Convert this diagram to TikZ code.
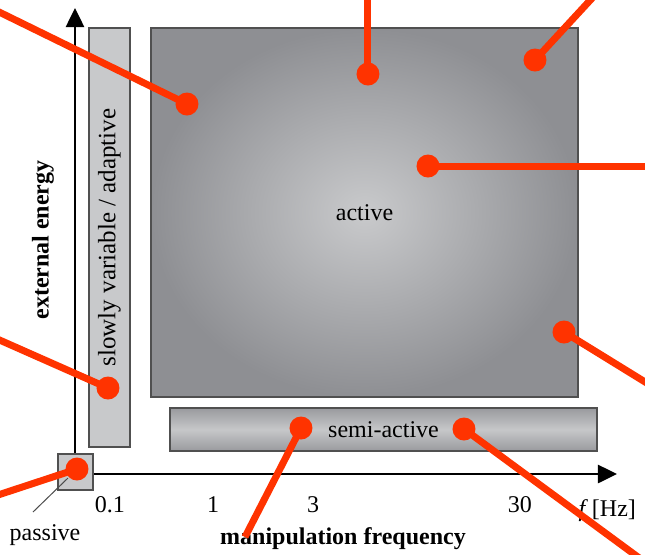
\documentclass[tikz,border=0pt]{standalone}
\usepackage{fontspec}
\setmainfont{Liberation Serif}
\usetikzlibrary{positioning, arrows.meta}

\definecolor{leadred}{HTML}{FF3300}
\definecolor{boxdark}{HTML}{8E8F93}
\definecolor{boxlight}{HTML}{C6C7C9}
\definecolor{boxedge}{HTML}{505050}
\definecolor{barfill}{HTML}{C8C9CB}

\begin{document}
\begin{tikzpicture}[
    x=0.5pt, y=-0.5pt,
    % Region box style
    region/.style={
        rectangle,
        draw=boxedge,
        line width=0.8pt,
        inner sep=0pt,
        font=\fontsize{12}{14}\selectfont
    },
    % Axis style
    axis/.style={
        -{Triangle[length=9.5pt, width=9pt]},
        line width=1.3pt
    },
    % Leader line style
    lead/.style={
        leadred,
        line width=3.5pt
    },
    % Dot style
    dot/.style={
        circle,
        fill=leadred,
        inner sep=0pt,
        minimum size=11.5pt
    },
    % Label style
    lbl/.style={
        font=\fontsize{12}{14}\selectfont
    },
    % Axis title style
    ttl/.style={
        font=\fontsize{12}{14}\selectfont\bfseries
    }
]

\useasboundingbox (0, 0) rectangle (645, 554);
\clip (0, 0) rectangle (645, 554);

% === Axes ===
\coordinate (O) at (75, 474);
\coordinate (ytip) at (75, 8);
\coordinate (xtip) at (617, 474);
\draw[axis] (O) -- (ytip);
\draw[axis] (O) -- (xtip);

% === Regions ===
\node[region, fill=barfill, rotate=90, minimum width=209.5pt, minimum height=20.5pt,
      font=\fontsize{12.5}{14}\selectfont]
    (slow) at (109.5, 237.5) {slowly variable / adaptive};
\node[region, inner color=boxlight!95!white, outer color=boxdark,
      minimum width=213.5pt, minimum height=184.5pt]
    (active) at (364.5, 212.5) {active};
\node[region, top color=boxdark!90, bottom color=boxdark!90, middle color=boxlight,
      minimum width=213.5pt, minimum height=21.5pt]
    (semi) at (383.5, 429.5) {semi-active};
\node[region, fill=barfill, minimum width=17.5pt, minimum height=18pt]
    (pasbox) at (75.5, 472) {};

% === Tick labels ===
\node[lbl] (t01) at (110, 505) {0.1};
\node[lbl] (t1) at (213, 505) {1};
\node[lbl] (t3) at (313, 505) {3};
\node[lbl] (t30) at (520, 505) {30};
\node[lbl, anchor=east] (funit) at (643, 511) {\textit{f}\,[Hz]};

% === Axis titles ===
\node[ttl] (xttl) at (343, 539) {manipulation frequency};
\node[ttl, rotate=90] (yttl) at (43, 240) {external energy};

% === Passive label ===
\node[lbl] (paslbl) at (45, 535) {passive};
\coordinate (pastip) at (68, 478);
\coordinate (pasend) at (33, 512);
\draw[black!70, line width=0.5pt] (pastip) -- (pasend);

% === Leader dots ===
\node[dot] (d1) at (187, 104) {};
\node[dot] (d2) at (368, 74) {};
\node[dot] (d3) at (535, 60) {};
\node[dot] (d4) at (428, 166) {};
\node[dot] (d5) at (564, 332) {};
\node[dot] (d6) at (108, 388) {};
\node[dot] (d7) at (301, 428) {};
\node[dot] (d8) at (464, 429) {};
\node[dot] (d9) at (77, 469) {};

% === Leader ends ===
\coordinate (e1) at (-5, 10);
\coordinate (e2) at (368, -5);
\coordinate (e3) at (595, -5);
\coordinate (e4) at (650, 166);
\coordinate (e5) at (650, 385);
\coordinate (e6) at (-5, 338);
\coordinate (e7) at (245, 537);
\coordinate (e8) at (642, 560);
\coordinate (e9) at (-5, 496);

% === Leader lines ===
\foreach \i in {1,...,9}
    \draw[lead] (d\i.center) -- (e\i);

\end{tikzpicture}
\end{document}
